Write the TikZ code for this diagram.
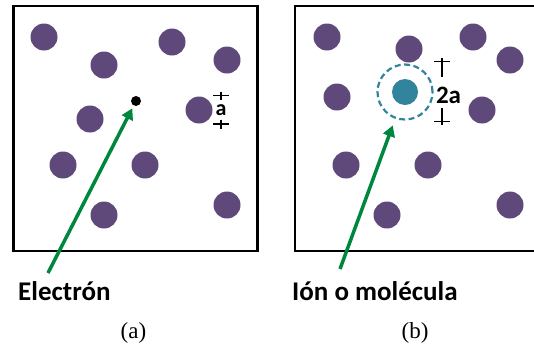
\documentclass[tikz,border=0pt]{standalone}
\usepackage{fontspec}
\setsansfont{Carlito}
\setmainfont{Liberation Serif}
\usetikzlibrary{arrows.meta,calc}
\definecolor{atompurple}{HTML}{5F497A}
\definecolor{ionteal}{HTML}{31849B}
\definecolor{flowgreen}{HTML}{00873E}
\newcommand{\LabelFont}{\fontsize{27}{32}\selectfont\sffamily\bfseries}
\newcommand{\DimFont}{\fontsize{22}{26}\selectfont\sffamily\bfseries}
\newcommand{\BigDimFont}{\fontsize{25}{30}\selectfont\sffamily\bfseries}
\newcommand{\CapFont}{\fontsize{23}{27}\selectfont}

\begin{document}
\begin{tikzpicture}[x=1pt, y=-1pt,
  panel/.style={draw=black, line width=2.6pt},
  atom/.style={circle, fill=atompurple, minimum size=27pt, inner sep=0pt},
  electron/.style={circle, fill=black, minimum size=10pt, inner sep=0pt},
  ion/.style={circle, fill=ionteal, minimum size=26pt, inner sep=0pt},
  shell/.style={circle, draw=ionteal, line width=2.2pt,
                dash pattern=on 6pt off 3.5pt, minimum size=55pt, inner sep=0pt},
  flow/.style={-{Triangle[length=11pt,width=12pt]}, draw=flowgreen,
               line width=3.5pt},
  dimline/.style={draw=black, line width=1.6pt},
  tag/.style={font=\LabelFont, anchor=base west, inner sep=0pt},
  caption/.style={font=\CapFont, anchor=base, inner sep=0pt}
]
\clip (0,0) rectangle (534,349);

% Frames of the two panels.
\draw[panel] (13.5,6) rectangle (257.5,251);
\draw[panel] (295,6) rectangle (540,251);

% Atoms of the medium, panel (a).
\foreach \n/\x/\y in {1/44/37, 2/104/65, 3/172/42, 4/227/60, 5/90/119,
                      6/199/110, 7/63/165, 8/145/165, 9/104/215, 10/227/205}
  \node[atom] (a\n) at (\x,\y) {};
% Atoms of the medium, panel (b).
\foreach \n/\x/\y in {1/327/37, 2/409/49, 3/473/37, 4/510/60, 5/337/97,
                      6/482/110, 7/346/165, 8/428/165, 9/387/215, 10/510/205}
  \node[atom] (b\n) at (\x,\y) {};

% Panel (a): the electron and its spacing mark.
\node[electron] (elec) at (136,101) {};
\node[font=\DimFont, inner sep=0pt] (adim) at (221,110) {a};
\draw[dimline] ($(adim)+(-8,-14.5)$) -- ++(16,0);
\draw[dimline] ($(adim)+(0,-18.5)$) -- ++(0,8);
\draw[dimline] ($(adim)+(-8,14)$) -- ++(16,0);
\draw[dimline] ($(adim)+(0,10)$) -- ++(0,8.5);

% Panel (b): the ion with its shell and the size mark.
\node[ion] (ion) at (405,92) {};
\node[shell] (ionshell) at (ion) {};
\node[font=\BigDimFont, inner sep=0pt] (bdim) at (448.5,95) {2a};
\draw[dimline] ($(bdim)+(-14.5,-33.5)$) -- ++(16,0);
\draw[dimline] ($(bdim)+(-6.5,-37)$) -- ++(0,19);
\draw[dimline] ($(bdim)+(-14.5,26.5)$) -- ++(16,0);
\draw[dimline] ($(bdim)+(-6.5,13)$) -- ++(0,17);

% Labels and pointers.
\node[tag] (elabel) at (18,300) {Electrón};
\node[tag] (ilabel) at (292,300) {Ión o molécula};
\coordinate (etail) at (48,273);
\coordinate (itail) at (340,269);
\draw[flow, shorten >=3pt] (etail) -- (elec);
\draw[flow, shorten >=7pt] (itail) -- (ionshell);

% Panel captions.
\node[caption] (capa) at (133.5,338) {(a)};
\node[caption] (capb) at (415,338) {(b)};
\end{tikzpicture}
\end{document}
